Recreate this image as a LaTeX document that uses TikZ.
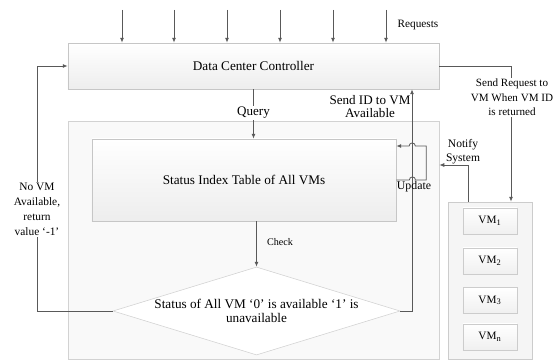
\documentclass[tikz,border=0pt]{standalone}
\usepackage{fontspec}
\setmainfont{Liberation Serif}
\usetikzlibrary{shapes.geometric,arrows.meta}

\begin{document}
\begin{tikzpicture}[x=0.025cm, y=-0.025cm,
    mybox/.style={draw=gray!45, top color=white, bottom color=gray!14, font=\fontsize{9.4}{11}\selectfont},
    vmnode/.style={draw=gray!40, top color=white, bottom color=gray!12, minimum width=1.35cm, minimum height=0.65cm, font=\fontsize{8}{9}\selectfont},
    myedge/.style={-{Latex[length=3.5pt,width=2.8pt]}, draw=black!65, line width=0.55pt},
    mylabel/.style={font=\fontsize{8}{10.5}\selectfont, align=center, inner sep=1pt}
]
    \useasboundingbox (0,0) rectangle (559,360);

    % outer frames
    \node[draw=gray!35, fill=gray!5, minimum width=9.275cm, minimum height=5.95cm] (outer) at (253.5,240) {};
    \node[draw=gray!40, fill=gray!8, minimum width=2.1cm, minimum height=3.925cm] (vmbox) at (490,280.5) {};

    % main blocks
    \node[mybox, minimum width=9.275cm, minimum height=1.15cm] (ctrl) at (253.5,66) {Data Center Controller};
    \node[mybox, minimum width=7.6cm, minimum height=2.05cm] (table) at (244,180) {Status Index Table of All VMs};
    \node[diamond, draw=gray!35, fill=white, minimum width=7.175cm, minimum height=2.2cm, inner sep=0pt] (dia) at (256.5,311) {};
    \node[font=\fontsize{9.4}{10}\selectfont, align=center] (diatxt) at (dia.center) {Status of All VM `0' is available `1' is\\unavailable};

    % virtual machines
    \node[vmnode] (vm1) at (490,221) {VM\textsubscript{1}};
    \node[vmnode] (vm2) at (490,261) {VM\textsubscript{2}};
    \node[vmnode] (vm3) at (490,300.5) {VM\textsubscript{3}};
    \node[vmnode] (vmn) at (490,337) {VM\textsubscript{n}};

    % incoming requests
    \foreach \x in {122,174,227,280,333,386} {
        \coordinate (req\x) at (\x,10);
        \draw[myedge] (req\x) -- (req\x |- ctrl.north);
    }
    \node[mylabel] (reqlbl) at (418,25) {Requests};

    % query and check
    \draw[myedge] (ctrl.south) -- (ctrl.south |- table.north);
    \node[font=\fontsize{9.3}{10}\selectfont, fill=white, inner sep=1pt] (qlbl) at (253.5,113) {Query};
    \draw[myedge] (dia.north |- table.south) -- (dia.north);
    \node[font=\fontsize{7.2}{8}\selectfont] (chk) at (280,242) {Check};

    % send ID back to controller
    \coordinate (sid) at (412,0);
    \draw[myedge] (dia.east) -| (sid |- ctrl.south);
    \node[font=\fontsize{9.3}{9.5}\selectfont, align=center] (sidlbl) at (370,106.5) {Send ID to VM\\Available};

    % update loop with hops
    \draw[myedge] (table.east) -- ++(13,0) arc[start angle=180, end angle=0, radius=2.2pt]
        -- ++(10.8,0) -- ++(0,-34) -- ++(-11,0) arc[start angle=0, end angle=180, radius=2.2pt]
        -- ([yshift=0.85cm]table.east);
    \node[font=\fontsize{8.4}{9}\selectfont] (upd) at (414,187) {Update};

    % notify system
    \coordinate (ntf) at (468,165);
    \draw[myedge] (vmbox.north -| ntf) |- (outer.east |- ntf);
    \node[mylabel, font=\fontsize{8.2}{10}\selectfont] (ntflbl) at (463,152) {Notify\\System};

    % send request to VM
    \coordinate (sreq) at (511,0);
    \draw[myedge] (ctrl.east) -| (sreq |- vmbox.north);
    \node[mylabel, fill=white, font=\fontsize{7.9}{10.3}\selectfont] (sreqlbl) at (512,97.5) {Send Request to\\VM When VM ID\\is returned};

    % no VM available
    \coordinate (novm) at (37,0);
    \draw[myedge] (dia.west) -| (novm |- ctrl.west) -- (ctrl.west);
    \node[mylabel, fill=white, font=\fontsize{8.1}{10.7}\selectfont] (novmlbl) at (37,209.5) {No VM\\Available,\\return\\value `-1'};
\end{tikzpicture}
\end{document}
